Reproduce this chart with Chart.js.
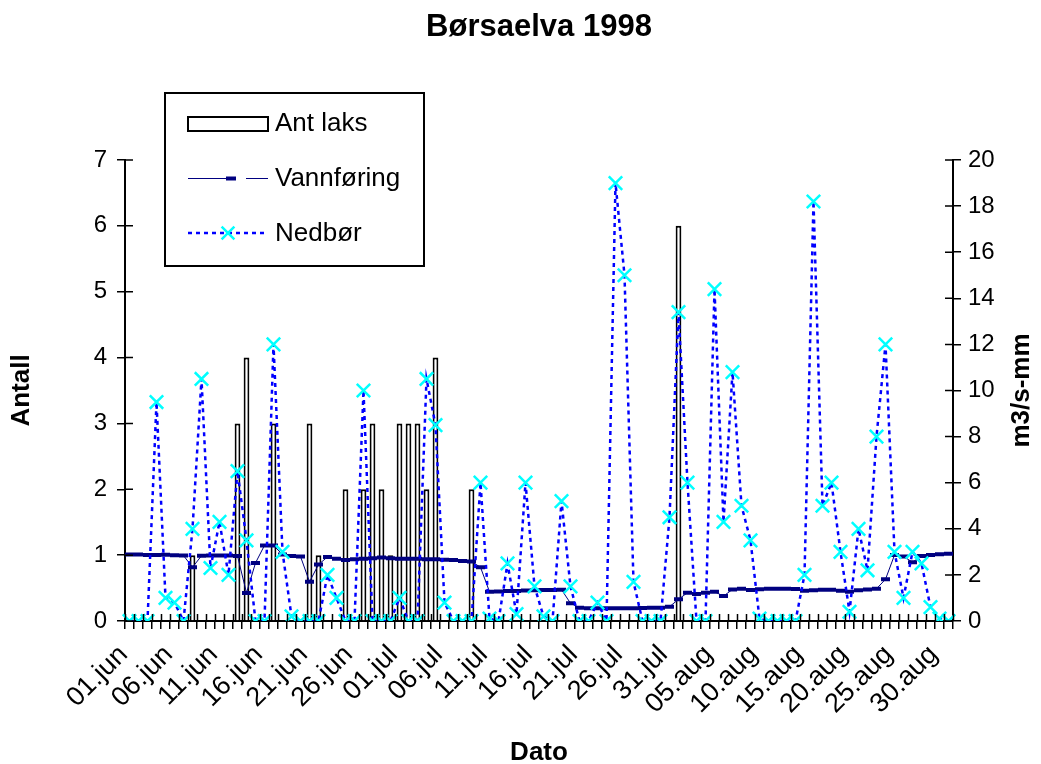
<!DOCTYPE html>
<html><head><meta charset="utf-8">
<script src="https://cdn.jsdelivr.net/npm/chart.js@4/dist/chart.umd.min.js"></script>
<style>html,body{margin:0;padding:0;background:#fff}#wrap{width:1041px;height:764px;position:relative}</style>
</head><body><div id="wrap"><canvas id="c" width="1041" height="764"></canvas></div>
<script>
const categories = [
 "01.jun","02.jun","03.jun","04.jun","05.jun","06.jun","07.jun","08.jun","09.jun","10.jun",
 "11.jun","12.jun","13.jun","14.jun","15.jun","16.jun","17.jun","18.jun","19.jun","20.jun",
 "21.jun","22.jun","23.jun","24.jun","25.jun","26.jun","27.jun","28.jun","29.jun","30.jun",
 "01.jul","02.jul","03.jul","04.jul","05.jul","06.jul","07.jul","08.jul","09.jul","10.jul",
 "11.jul","12.jul","13.jul","14.jul","15.jul","16.jul","17.jul","18.jul","19.jul","20.jul",
 "21.jul","22.jul","23.jul","24.jul","25.jul","26.jul","27.jul","28.jul","29.jul","30.jul","31.jul",
 "01.aug","02.aug","03.aug","04.aug","05.aug","06.aug","07.aug","08.aug","09.aug","10.aug",
 "11.aug","12.aug","13.aug","14.aug","15.aug","16.aug","17.aug","18.aug","19.aug","20.aug",
 "21.aug","22.aug","23.aug","24.aug","25.aug","26.aug","27.aug","28.aug","29.aug","30.aug","31.aug"
];
const antLaks = [
 0,0,0,0,0,0,0,1,0,0,
 0,0,3,4,0,0,3,0,0,0,
 3,1,0,0,2,0,2,3,2,1,
 3,3,3,2,4,0,0,0,2,0,
 0,0,0,0,0,0,0,0,0,0,
 0,0,0,0,0,0,0,0,0,0,
 0,6,0,0,0,0,0,0,0,0,
 0,0,0,0,0,0,0,0,0,0,
 0,0,0,0,0,0,0,0,0,0,
 0,0
];
const vannforing = [
 2.88,2.88,2.86,2.86,2.87,2.85,2.84,2.33,2.83,2.84,
 2.84,2.84,2.82,1.22,2.52,3.28,3.28,2.88,2.82,2.80,
 1.70,2.45,2.78,2.70,2.65,2.68,2.70,2.72,2.75,2.72,
 2.70,2.70,2.70,2.68,2.68,2.66,2.65,2.60,2.58,2.33,
 1.27,1.28,1.30,1.30,1.32,1.33,1.35,1.35,1.36,0.77,
 0.58,0.55,0.55,0.55,0.55,0.55,0.55,0.56,0.57,0.58,
 0.62,0.94,1.23,1.17,1.23,1.27,1.08,1.37,1.40,1.35,
 1.38,1.40,1.40,1.40,1.39,1.31,1.33,1.36,1.36,1.31,
 1.27,1.33,1.37,1.40,1.81,2.86,2.80,2.55,2.82,2.86,
 2.90,2.92
];
const nedbor = [
 0,0,0,9.5,1.0,0.8,0,4.0,10.5,2.3,
 4.3,2.0,6.5,3.5,0,0,12.0,3.0,0.2,0,
 0,0,2.0,1.0,0,0,10.0,0,0,0,
 1.0,0,0,10.5,8.5,0.8,0,0,0,6.0,
 0.1,0,2.5,0.3,6.0,1.5,0.2,0,5.2,1.5,
 0,0,0.8,0,19.0,15.0,1.7,0,0,0,
 4.5,13.4,6.0,0,0,14.4,4.3,10.8,5.0,3.5,
 0.1,0,0,0,0,2.0,18.2,5.0,6.0,3.0,
 0.4,4.0,2.2,8.0,12.0,3.0,1.0,3.0,2.5,0.6,
 0.1,0
];
const leftAxis = {min: 0, max: 7, step: 1};
const rightAxis = {min: 0, max: 20, step: 2};
const xLabelEvery = 5;
const chartTitle = "Børsaelva 1998";
const xTitle = "Dato";
const leftTitle = "Antall";
const rightTitle = "m3/s-mm";

const FONT = "'Liberation Sans', Arial, sans-serif";

const innerTicks = {
  id: 'innerTicks',
  afterDraw(chart) {
    const ctx = chart.ctx;
    const x = chart.scales.x, y = chart.scales.y, y1 = chart.scales.y1;
    ctx.save();
    ctx.strokeStyle = '#000';
    ctx.lineWidth = 1.5;
    ctx.beginPath();
    const n = categories.length;
    const w = (x.right - x.left) / n;
    for (let i = 0; i <= n; i++) {
      const px = Math.round(x.left + i * w) + 0.5;
      ctx.moveTo(px, x.top); ctx.lineTo(px, x.top - 7);
    }
    y.ticks.forEach((t, i) => {
      const py = y.getPixelForTick(i);
      ctx.moveTo(y.right, py); ctx.lineTo(y.right + 8, py);
    });
    y1.ticks.forEach((t, i) => {
      const py = y1.getPixelForTick(i);
      ctx.moveTo(y1.left, py); ctx.lineTo(y1.left - 8, py);
    });
    ctx.stroke();
    // right axis title (reads bottom to top)
    ctx.fillStyle = '#000';
    ctx.font = 'bold 26px ' + FONT;
    ctx.textAlign = 'center';
    ctx.textBaseline = 'middle';
    ctx.translate(1022, (y1.top + y1.bottom) / 2);
    ctx.rotate(-Math.PI / 2);
    ctx.fillText(rightTitle, 0, 0);
    ctx.restore();
  }
};

const boxLegend = {
  id: 'boxLegend',
  afterDraw(chart) {
    const ctx = chart.ctx;
    const ds = chart.data.datasets;
    ctx.save();
    ctx.fillStyle = '#fff';
    ctx.fillRect(165, 93, 259, 173);
    ctx.strokeStyle = '#000';
    ctx.lineWidth = 2;
    ctx.strokeRect(165, 93, 259, 173);
    // Ant laks
    ctx.fillStyle = '#fff';
    ctx.fillRect(188, 117, 80, 14);
    ctx.lineWidth = 2;
    ctx.strokeStyle = '#000';
    ctx.strokeRect(188, 117, 80, 14);
    // Vannføring
    ctx.strokeStyle = '#000080';
    ctx.lineWidth = 1;
    ctx.beginPath();
    ctx.moveTo(188, 178.5); ctx.lineTo(228, 178.5);
    ctx.moveTo(246, 178.5); ctx.lineTo(268, 178.5);
    ctx.stroke();
    ctx.lineWidth = 4;
    ctx.beginPath();
    ctx.moveTo(226, 178.5); ctx.lineTo(236, 178.5);
    ctx.stroke();
    // Nedbør
    ctx.strokeStyle = '#0000ff';
    ctx.lineWidth = 2.5;
    ctx.setLineDash([4, 4]);
    ctx.beginPath();
    ctx.moveTo(188, 233); ctx.lineTo(268, 233);
    ctx.stroke();
    ctx.setLineDash([]);
    ctx.strokeStyle = '#00ffff';
    ctx.lineWidth = 2.5;
    ctx.beginPath();
    const cx = 228, cy = 233, r = 6.4;
    ctx.moveTo(cx - r, cy - r); ctx.lineTo(cx + r, cy + r);
    ctx.moveTo(cx - r, cy + r); ctx.lineTo(cx + r, cy - r);
    ctx.stroke();
    // texts
    ctx.fillStyle = '#000';
    ctx.font = '26px ' + FONT;
    ctx.textAlign = 'left';
    ctx.textBaseline = 'middle';
    ctx.fillText(ds[0].label, 275, 124);
    ctx.fillText(ds[1].label, 275, 179);
    ctx.fillText(ds[2].label, 275, 234);
    ctx.restore();
  }
};

new Chart(document.getElementById('c'), {
  type: 'bar',
  data: {
    labels: categories,
    datasets: [
      {
        type: 'bar', label: 'Ant laks',
        data: antLaks.map(v => v === 0 ? null : v),
        yAxisID: 'y', backgroundColor: '#ffffff', borderColor: '#000000',
        borderWidth: 2, barPercentage: 0.64, categoryPercentage: 1, order: 3
      },
      {
        type: 'line', label: 'Vannføring', data: vannforing, yAxisID: 'y1',
        borderColor: '#000080', borderWidth: 1, tension: 0,
        pointStyle: 'line', pointRadius: 4.5, pointBorderWidth: 4,
        pointBorderColor: '#000080', pointBackgroundColor: '#000080', order: 2
      },
      {
        type: 'line', label: 'Nedbør', data: nedbor, yAxisID: 'y1',
        borderColor: '#0000ff', borderWidth: 2.5, borderDash: [4, 4], tension: 0,
        pointStyle: 'crossRot', pointRadius: 9.5, pointBorderWidth: 2.5,
        pointBorderColor: '#00ffff', pointBackgroundColor: '#00ffff', order: 1
      }
    ]
  },
  options: {
    responsive: false, animation: false, devicePixelRatio: 1,
    layout: {padding: {top: 0, left: 0, right: 0, bottom: 0}},
    plugins: {
      legend: {display: false},
      tooltip: {enabled: false},
      title: {
        display: true, text: chartTitle, fullSize: false, color: '#000',
        font: {family: FONT, size: 31, weight: 'bold', lineHeight: 1.2},
        padding: {top: 8.4, bottom: 114.4}
      }
    },
    scales: {
      x: {
        offset: true,
        grid: {offset: true, drawOnChartArea: false, drawTicks: true, tickLength: 8, color: '#000', lineWidth: 1.5},
        border: {display: true, color: '#000', width: 2},
        ticks: {
          autoSkip: false, maxRotation: 45, minRotation: 45, color: '#000', padding: 10, labelOffset: -6,
          font: {family: FONT, size: 27},
          callback: function (v, i) { return i % xLabelEvery === 0 ? this.getLabelForValue(v) : ''; }
        },
        title: {display: true, text: xTitle, color: '#000', font: {family: FONT, size: 26, weight: 'bold', lineHeight: 1}, padding: {top: 0, bottom: -2}},
        afterFit(s) { s.height = 143; }
      },
      y: {
        position: 'left', min: leftAxis.min, max: leftAxis.max,
        grid: {drawOnChartArea: false, drawTicks: true, tickLength: 8, color: '#000', lineWidth: 1.5},
        border: {display: true, color: '#000', width: 2},
        ticks: {stepSize: leftAxis.step, color: '#000', padding: 10, font: {family: FONT, size: 24}},
        title: {display: true, text: leftTitle, color: '#000', font: {family: FONT, size: 26, weight: 'bold', lineHeight: 1}, padding: {top: 9, bottom: 0}},
        afterFit(s) { s.width = 125; }
      },
      y1: {
        position: 'right', min: rightAxis.min, max: rightAxis.max,
        grid: {drawOnChartArea: false, drawTicks: true, tickLength: 8, color: '#000', lineWidth: 1.5},
        border: {display: true, color: '#000', width: 2},
        ticks: {stepSize: rightAxis.step, color: '#000', padding: 7, font: {family: FONT, size: 24}},
        afterFit(s) { s.width = 88; }
      }
    }
  },
  plugins: [innerTicks, boxLegend]
});
</script>
</body></html>
